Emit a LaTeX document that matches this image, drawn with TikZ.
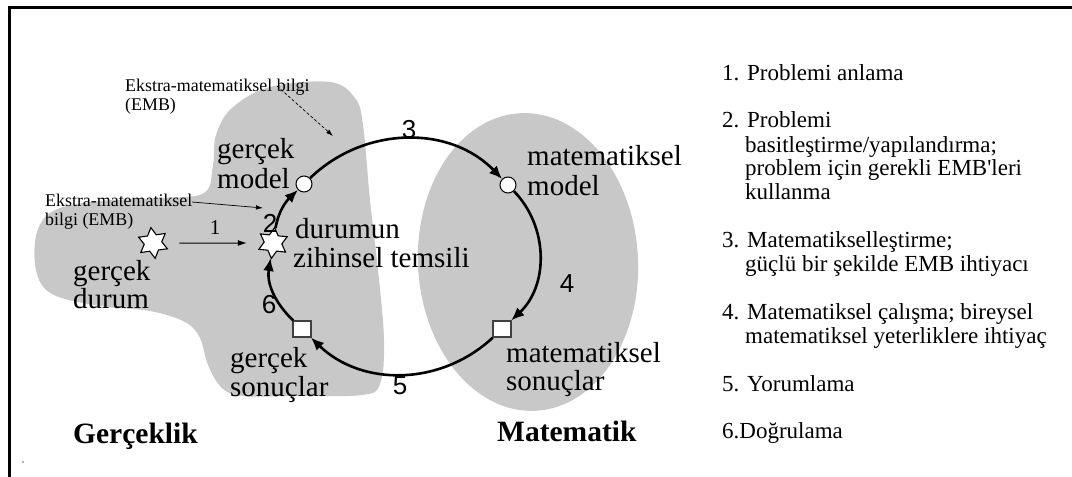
\documentclass[tikz,border=0pt]{standalone}
\usepackage{fontspec}
\setmainfont{Liberation Serif}
\newfontfamily\arialf{Liberation Sans}
\newfontfamily\serifraw{Liberation Serif}[Ligatures=TeXOff]
\usetikzlibrary{shapes.geometric,arrows.meta}
\definecolor{blobgray}{RGB}{200,200,200}
\begin{document}
\begin{tikzpicture}[x=1pt,y=1pt,
  lab/.style={font=\fontsize{29}{31}\selectfont, anchor=base west, inner sep=0pt},
  boldlab/.style={font=\fontsize{29.5}{31}\selectfont\bfseries, anchor=base west, inner sep=0pt},
  emb/.style={font=\fontsize{17.9}{19}\selectfont, anchor=base west, inner sep=0pt},
  lst/.style={font=\fontsize{23}{24}\selectfont, anchor=base west, inner sep=0pt},
  num/.style={font=\arialf\fontsize{26}{28}\selectfont, inner sep=0pt},
  starnode/.style={star, star points=6, star point ratio=1.75, minimum size=31pt, inner sep=0pt, fill=white, draw=black, line width=1.1pt},
  dotnode/.style={circle, minimum size=16pt, inner sep=0pt, fill=white, draw=black, line width=1pt},
  boxnode/.style={rectangle, minimum width=18pt, minimum height=16pt, inner sep=0pt, fill=white, draw=black!75, line width=1.2pt},
  cyc/.style={line width=2.6pt, -{Latex[length=13pt,width=11pt]}},
  thinarrow/.style={line width=1pt, -{Latex[length=9pt,width=6pt]}},
  embarrow/.style={line width=0.7pt, -{Latex[length=7pt,width=4.5pt]}}
]
\useasboundingbox (0,0) rectangle (1072,-477);

% frame
\draw[line width=3pt] (9.5,-477) -- (9.5,-7.5) -- (1072,-7.5);
\fill[black!60] (23,-462) circle (0.8);

% gray regions
\fill[blobgray] plot[smooth cycle, tension=0.6] coordinates {
  (330,-82) (355,-98) (363,-125) (370,-200) (378,-270) (384,-340) (380,-384)
  (362,-395) (300,-396) (243,-396) (222,-388) (208,-365) (200,-338) (185,-322)
  (150,-311) (100,-306) (52,-294) (36,-270) (37,-232) (55,-210) (100,-201)
  (160,-198) (204,-193) (213,-165) (216,-135) (232,-108) (270,-87)};
\fill[blobgray, rotate around={3:(528,-262)}] (528,-262) ellipse [x radius=110, y radius=149];

% key nodes
\node[starnode, rotate=8] (st1) at (153,-243) {};
\node[starnode, rotate=-6] (st2) at (273,-243) {};
\node[dotnode] (gm) at (304,-184) {};
\node[dotnode] (mm) at (508,-185) {};
\node[boxnode] (ms) at (502,-329) {};
\node[boxnode] (gs) at (302,-329) {};

% cycle arrows
\draw[cyc] (st2) to[out=83,in=224] (gm);
\draw[cyc] (gm) to[out=44,in=134] (mm);
\draw[cyc] (mm) to[out=-46,in=43] (ms);
\draw[cyc] (ms) to[out=223,in=-44] (gs);
\draw[cyc] (gs) to[out=136,in=263] (st2);

% arrow 1
\draw[thinarrow, shorten <=16pt, shorten >=16pt] (st1) -- (st2);

% EMB annotations
\node[emb] (emb1a) at (125,-91) {Ekstra-matematiksel bilgi};
\node[emb] (emb1b) at (125,-110) {(EMB)};
\node[emb] (emb2a) at (45,-206) {Ekstra-matematiksel};
\node[emb] (emb2b) at (45,-225) {bilgi (EMB)};
\coordinate (e1s) at (277,-86);
\coordinate (e1e) at (333,-136);
\coordinate (e2s) at (192,-202);
\coordinate (e2e) at (263,-208);
\draw[embarrow, densely dashed] (e1s) -- (e1e);
\draw[embarrow] (e2s) -- (e2e);

% labels
\node[lab] (gm1) at (217,-158) {gerçek};
\node[lab] (gm2) at (217,-188) {model};
\node[lab] (dz1) at (295,-238) {durumun};
\node[lab] (dz2) at (293,-267) {zihinsel temsili};
\node[lab] (gd1) at (73,-280) {gerçek};
\node[lab] (gd2) at (73,-308) {durum};
\node[lab] (mm1) at (527,-165) {matematiksel};
\node[lab] (mm2) at (527,-195) {model};
\node[lab] (ms1) at (506,-362) {matematiksel};
\node[lab] (ms2) at (506,-390) {sonuçlar};
\node[lab] (gs1) at (230,-367) {gerçek};
\node[lab] (gs2) at (230,-396) {sonuçlar};
\node[boldlab] (real) at (73,-443) {Gerçeklik};
\node[boldlab] (math) at (497,-441) {Matematik};

% numbers
\node[num] (n3) at (409,-130) {3};
\node[num] (n2) at (270,-223) {2};
\node[num] (n4) at (567,-284) {4};
\node[num] (n5) at (400,-386) {5};
\node[num] (n6) at (269,-305) {6};
\node[font=\fontsize{21}{22}\selectfont, inner sep=0pt] (n1) at (215,-228) {1};

% list
\node[lst] (l1) at (722,-80) {1. Problemi anlama};
\node[lst] (l2a) at (722,-127) {2. Problemi};
\node[lst] (l2b) at (745,-152) {basitleştirme/yapılandırma;};
\node[lst] (l2c) at (745,-175) {problem için gerekli EMB{\serifraw '}leri};
\node[lst] (l2d) at (745,-199) {kullanma};
\node[lst] (l3a) at (722,-247) {3. Matematikselleştirme;};
\node[lst] (l3b) at (745,-271) {güçlü bir şekilde EMB ihtiyacı};
\node[lst] (l4a) at (722,-319) {4. Matematiksel çalışma; bireysel};
\node[lst] (l4b) at (745,-343) {matematiksel yeterliklere ihtiyaç};
\node[lst] (l5) at (722,-391) {5. Yorumlama};
\node[lst] (l6) at (722,-438) {6.Doğrulama};
\end{tikzpicture}
\end{document}
